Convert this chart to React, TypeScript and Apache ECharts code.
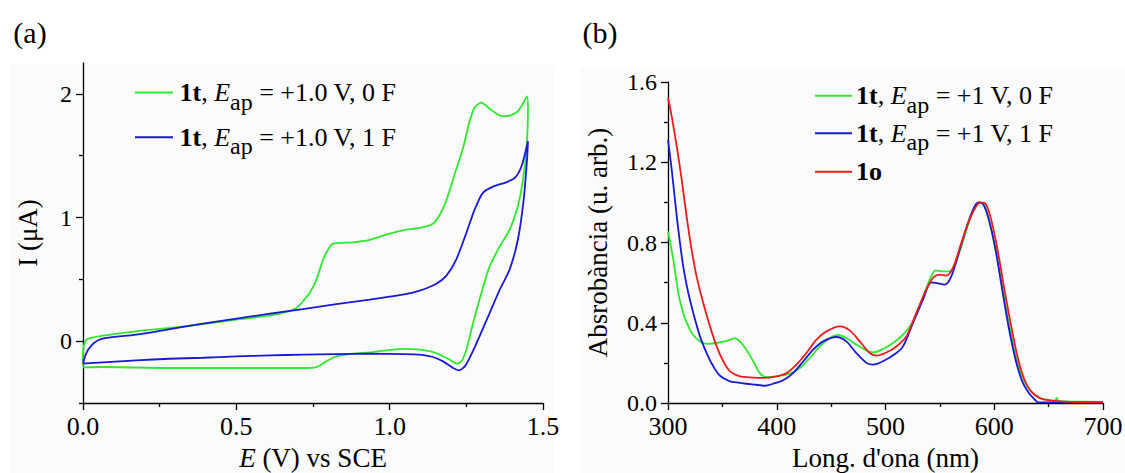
import React, { useEffect, useRef } from "react";
import * as echarts from "echarts";

const FONT = "'Liberation Serif', 'Times New Roman', Times, serif";
const GREEN = "#2fe82f";
const BLUE = "#1a1ad2";
const RED = "#ee1c1c";
const AX = "#000";

// ---- Panel (a): cyclic voltammetry ----
const cv0FPotential = [0.0, 0.0, 0.011, 0.065, 0.174, 0.283, 0.391, 0.5, 0.609, 0.663, 0.696, 0.717, 0.739, 0.761, 0.783, 0.799, 0.815, 0.88, 0.935, 0.989, 1.043, 1.098, 1.141, 1.163, 1.185, 1.217, 1.239, 1.261, 1.277, 1.299, 1.326, 1.359, 1.38, 1.413, 1.43, 1.448, 1.451, 1.446, 1.435, 1.418, 1.391, 1.359, 1.326, 1.299, 1.272, 1.25, 1.234, 1.217, 1.196, 1.152, 1.098, 1.043, 0.989, 0.935, 0.88, 0.826, 0.793, 0.761, 0.717, 0.5, 0.283, 0.065, 0.0];
const cv0FCurrent = [-0.2, -0.1, 0.012, 0.045, 0.08, 0.107, 0.139, 0.174, 0.206, 0.236, 0.269, 0.323, 0.39, 0.497, 0.66, 0.74, 0.789, 0.8, 0.82, 0.862, 0.897, 0.916, 0.95, 1.02, 1.14, 1.39, 1.56, 1.78, 1.89, 1.93, 1.88, 1.825, 1.82, 1.85, 1.9, 1.98, 1.87, 1.55, 1.31, 1.09, 0.9, 0.767, 0.605, 0.39, 0.147, -0.069, -0.163, -0.182, -0.15, -0.096, -0.069, -0.063, -0.074, -0.09, -0.1, -0.123, -0.163, -0.209, -0.217, -0.217, -0.217, -0.209, -0.212];

const cv1FPotential = [0.0, 0.011, 0.027, 0.049, 0.076, 0.174, 0.283, 0.391, 0.5, 0.609, 0.717, 0.826, 0.935, 1.043, 1.098, 1.152, 1.185, 1.217, 1.25, 1.277, 1.304, 1.337, 1.38, 1.408, 1.43, 1.451, 1.448, 1.437, 1.418, 1.391, 1.359, 1.326, 1.293, 1.266, 1.245, 1.226, 1.207, 1.174, 1.141, 1.098, 1.043, 0.935, 0.826, 0.717, 0.609, 0.5, 0.391, 0.283, 0.174, 0.065, 0.0];
const cv1FCurrent = [-0.176, -0.096, -0.036, 0.007, 0.026, 0.053, 0.098, 0.142, 0.182, 0.222, 0.26, 0.3, 0.336, 0.376, 0.409, 0.465, 0.53, 0.66, 0.875, 1.064, 1.2, 1.25, 1.285, 1.32, 1.415, 1.617, 1.47, 1.145, 0.82, 0.579, 0.417, 0.228, 0.039, -0.109, -0.204, -0.236, -0.217, -0.163, -0.128, -0.109, -0.104, -0.101, -0.104, -0.109, -0.115, -0.123, -0.134, -0.142, -0.155, -0.171, -0.182];

const cvXTicks = [0, 0.5, 1.0, 1.5];
const cvYMajorTicks = [0, 1, 2];
const cvYMinorTicks = [-0.5, 0.5, 1.5];

// ---- Panel (b): absorption spectra ----
const uv0FWavelength = [300, 304.9, 309.5, 314, 318.7, 323, 329.4, 337, 344.7, 353.9, 361.5, 366, 372, 378.4, 384.5, 390.6, 399.8, 412, 421.2, 430.4, 439.6, 448.8, 456.4, 464, 473.2, 482.4, 488.5, 497.7, 506.9, 516.1, 525.3, 533, 540.6, 546.1, 552.8, 559, 565, 571.2, 577.3, 582.8, 586.5, 591, 595.7, 601.8, 607.9, 614, 620.2, 626.3, 632.4, 638.5, 644.7, 654, 656, 657.5, 659, 669, 700];
const uv0FAbsorbance = [0.855, 0.714, 0.548, 0.448, 0.382, 0.34, 0.307, 0.295, 0.299, 0.31, 0.322, 0.307, 0.265, 0.207, 0.149, 0.129, 0.133, 0.146, 0.174, 0.224, 0.282, 0.324, 0.339, 0.324, 0.291, 0.262, 0.252, 0.269, 0.299, 0.341, 0.407, 0.506, 0.614, 0.661, 0.656, 0.656, 0.706, 0.806, 0.914, 0.984, 1.0, 0.98, 0.897, 0.748, 0.565, 0.382, 0.224, 0.125, 0.066, 0.036, 0.02, 0.013, 0.012, 0.026, 0.011, 0.008, 0.005];

const uv1FWavelength = [300, 303.4, 306.4, 309.5, 314, 318.7, 323.3, 329.4, 335.5, 341.6, 347.8, 357, 363, 372.2, 381.4, 389, 396.7, 405.9, 415, 424.3, 433.5, 442.6, 454.9, 464, 473.2, 482.4, 488.5, 497.7, 510, 516.1, 525.3, 534.5, 542.1, 549.8, 554.4, 560.5, 568.2, 575.8, 581.9, 585.6, 589.6, 595.1, 601.2, 607.3, 613.4, 619.6, 625.7, 631.8, 638, 640, 700];
const uv1FAbsorbance = [1.312, 1.163, 1.013, 0.864, 0.681, 0.548, 0.448, 0.332, 0.249, 0.183, 0.136, 0.108, 0.103, 0.096, 0.091, 0.086, 0.096, 0.113, 0.149, 0.207, 0.266, 0.307, 0.329, 0.307, 0.249, 0.2, 0.191, 0.208, 0.249, 0.282, 0.399, 0.515, 0.601, 0.595, 0.59, 0.631, 0.764, 0.897, 0.98, 1.0, 0.993, 0.914, 0.764, 0.565, 0.374, 0.216, 0.108, 0.05, 0.013, 0.003, 0.003];

const uv1oWavelength = [300, 303.4, 308, 312.6, 317.1, 321.7, 326.3, 332.4, 338.6, 344.7, 350.8, 357, 366, 375.3, 387.5, 399.8, 409, 418.1, 427.3, 436.5, 445.7, 457.9, 467.1, 476.3, 485.5, 491.6, 500.8, 510, 519.2, 528.3, 537.5, 543.6, 549.8, 555.9, 562, 569.7, 577.3, 583.4, 587.4, 592, 597.2, 603.3, 609.4, 615.6, 621.7, 627.8, 633.9, 641.6, 650.8, 669, 700];
const uv1oAbsorbance = [1.52, 1.429, 1.28, 1.113, 0.93, 0.764, 0.631, 0.498, 0.382, 0.282, 0.208, 0.158, 0.133, 0.128, 0.125, 0.133, 0.149, 0.191, 0.249, 0.316, 0.357, 0.382, 0.362, 0.307, 0.249, 0.236, 0.252, 0.282, 0.332, 0.449, 0.565, 0.623, 0.64, 0.635, 0.673, 0.797, 0.914, 0.98, 1.0, 0.993, 0.914, 0.756, 0.565, 0.382, 0.224, 0.116, 0.058, 0.025, 0.013, 0.006, 0.003];

const legendA = ["1t|+1.0 V, 0 F", "1t|+1.0 V, 1 F"];
const legendB = ["1t|+1 V, 0 F", "1t|+1 V, 1 F", "1o"];

const zip = (xs: number[], ys: number[]) => xs.map((x, i) => [x, ys[i]]);

const LF = 26;
const RICH = {
  b: { fontFamily: FONT, fontSize: LF, fontWeight: "bold", fill: "#000", lineHeight: 28 },
  n: { fontFamily: FONT, fontSize: LF, fill: "#000", lineHeight: 28 },
  i: { fontFamily: FONT, fontSize: LF, fontStyle: "italic", fill: "#000", lineHeight: 28 },
  s: { fontFamily: FONT, fontSize: 24, fill: "#000", lineHeight: 26, padding: [18, 0, 0, 0] },
};

function legendText(entry: string) {
  const [compound, rest] = entry.split("|");
  if (rest === undefined) return `{b|${compound}}`;
  return `{b|${compound}}{n|, }{i|E}{s|ap}{n| = ${rest}}`;
}

function legendItems(entries: string[], colors: string[], x1: number, x2: number, tx: number, ys: number[]) {
  const els: any[] = [];
  entries.forEach((e, k) => {
    els.push({
      type: "line",
      shape: { x1, y1: ys[k], x2, y2: ys[k] },
      style: { stroke: colors[k], lineWidth: 2 },
      z: 10,
    });
    els.push({
      type: "text",
      x: tx,
      y: ys[k],
      z: 10,
      style: {
        text: legendText(e),
        rich: RICH,
        fill: "#000",
        fontFamily: FONT,
        fontSize: LF,
        align: "left",
        verticalAlign: "middle",
      },
    });
  });
  return els;
}

const axisLineStyle = { color: AX, width: 1.3 };

export default function App() {
  const ref = useRef<HTMLDivElement>(null);
  useEffect(() => {
    if (!ref.current) return;
    const chart = echarts.init(ref.current, undefined, { renderer: "svg" });
    const nameStyle = {
      fontFamily: FONT,
      fontSize: 27,
      color: "#000",
      rich: { i: { fontFamily: FONT, fontSize: 27, fontStyle: "italic", color: "#000" } },
    };
    const option: any = {
      animation: false,
      backgroundColor: "#fff",
      textStyle: { fontFamily: FONT },
      grid: [
        { left: 83, top: 63, width: 460, height: 340, outerBoundsMode: "none", containLabel: false },
        { left: 668, top: 82, width: 435, height: 321, outerBoundsMode: "none", containLabel: false },
      ],
      xAxis: [
        {
          gridIndex: 0,
          type: "value",
          min: 0,
          max: 1.5,
          interval: 0.5,
          axisLine: { onZero: false, lineStyle: axisLineStyle },
          axisTick: { length: 7, lineStyle: axisLineStyle, customValues: cvXTicks },
          minorTick: { show: true, splitNumber: 2, length: 4, lineStyle: axisLineStyle },
          axisLabel: { fontFamily: FONT, fontSize: 26, color: "#000", margin: 10, customValues: cvXTicks, formatter: (v: number) => v.toFixed(1) },
          splitLine: { show: false },
          minorSplitLine: { show: false },
          name: "{i|E} (V) vs SCE",
          nameLocation: "middle",
          nameGap: 41,
          nameTextStyle: nameStyle,
        },
        {
          gridIndex: 1,
          type: "value",
          min: 300,
          max: 700,
          interval: 100,
          axisLine: { onZero: false, lineStyle: axisLineStyle },
          axisTick: { length: 7, lineStyle: axisLineStyle },
          minorTick: { show: true, splitNumber: 2, length: 4, lineStyle: axisLineStyle },
          axisLabel: { fontFamily: FONT, fontSize: 26, color: "#000", margin: 10, formatter: (v: number) => String(Math.round(v)) },
          splitLine: { show: false },
          minorSplitLine: { show: false },
          name: "Long. d'ona (nm)",
          nameLocation: "middle",
          nameGap: 41,
          nameTextStyle: nameStyle,
        },
      ],
      yAxis: [
        {
          gridIndex: 0,
          type: "value",
          min: -0.5,
          max: 2.25,
          axisLine: { onZero: false, lineStyle: axisLineStyle },
          axisTick: { length: 7, lineStyle: axisLineStyle, customValues: cvYMajorTicks },
          axisLabel: { fontFamily: FONT, fontSize: 24, color: "#000", margin: 11, customValues: cvYMajorTicks, formatter: (v: number) => String(v) },
          splitLine: { show: false },
          name: "I (μA)",
          nameLocation: "middle",
          nameGap: 42,
          nameTextStyle: nameStyle,
        },
        {
          gridIndex: 0,
          type: "value",
          position: "left",
          min: -0.5,
          max: 2.25,
          axisLine: { show: false },
          axisTick: { length: 4, lineStyle: axisLineStyle, customValues: cvYMinorTicks },
          axisLabel: { show: false },
          splitLine: { show: false },
        },
        {
          gridIndex: 1,
          type: "value",
          min: 0,
          max: 1.6,
          interval: 0.4,
          axisLine: { onZero: false, lineStyle: axisLineStyle },
          axisTick: { length: 7, lineStyle: axisLineStyle },
          minorTick: { show: true, splitNumber: 2, length: 4, lineStyle: axisLineStyle },
          axisLabel: { fontFamily: FONT, fontSize: 24, color: "#000", margin: 11, formatter: (v: number) => v.toFixed(1) },
          splitLine: { show: false },
          minorSplitLine: { show: false },
          name: "Absrobància (u. arb.)",
          nameLocation: "middle",
          nameGap: 57,
          nameTextStyle: nameStyle,
        },
      ],
      series: [
        { type: "line", xAxisIndex: 0, yAxisIndex: 0, data: zip(cv0FPotential, cv0FCurrent), showSymbol: false, symbol: "none", smooth: 0.25, lineStyle: { color: GREEN, width: 1.8 } },
        { type: "line", xAxisIndex: 0, yAxisIndex: 0, data: zip(cv1FPotential, cv1FCurrent), showSymbol: false, symbol: "none", smooth: 0.25, lineStyle: { color: BLUE, width: 1.8 } },
        { type: "line", xAxisIndex: 1, yAxisIndex: 2, data: zip(uv0FWavelength, uv0FAbsorbance), showSymbol: false, symbol: "none", smooth: 0.3, lineStyle: { color: GREEN, width: 1.8 } },
        { type: "line", xAxisIndex: 1, yAxisIndex: 2, data: zip(uv1FWavelength, uv1FAbsorbance), showSymbol: false, symbol: "none", smooth: 0.3, lineStyle: { color: BLUE, width: 1.8 } },
        { type: "line", xAxisIndex: 1, yAxisIndex: 2, data: zip(uv1oWavelength, uv1oAbsorbance), showSymbol: false, symbol: "none", smooth: 0.3, lineStyle: { color: RED, width: 1.8 } },
      ],
      graphic: [
        { type: "rect", z: -100, silent: true, shape: { x: 10, y: 65, width: 545, height: 408 }, style: { fill: "#fbfbfb" } },
        { type: "rect", z: -100, silent: true, shape: { x: 580, y: 68, width: 545, height: 405 }, style: { fill: "#fbfbfb" } },
        { type: "text", x: 30, y: 32, style: { text: "(a)", fontFamily: FONT, fontSize: 30, fill: "#000", align: "center", verticalAlign: "middle" } },
        { type: "text", x: 600, y: 32, style: { text: "(b)", fontFamily: FONT, fontSize: 30, fill: "#000", align: "center", verticalAlign: "middle" } },
        ...legendItems(legendA, [GREEN, BLUE], 135, 173, 179.5, [92.5, 137.3]),
        ...legendItems(legendB, [GREEN, BLUE, RED], 815, 852, 856, [95.7, 133.3, 171.7]),
      ],
    };
    chart.setOption(option);
    return () => chart.dispose();
  }, []);
  return <div ref={ref} style={{ position: "absolute", left: 0, top: 0, width: 1125, height: 473 }} />;
}
